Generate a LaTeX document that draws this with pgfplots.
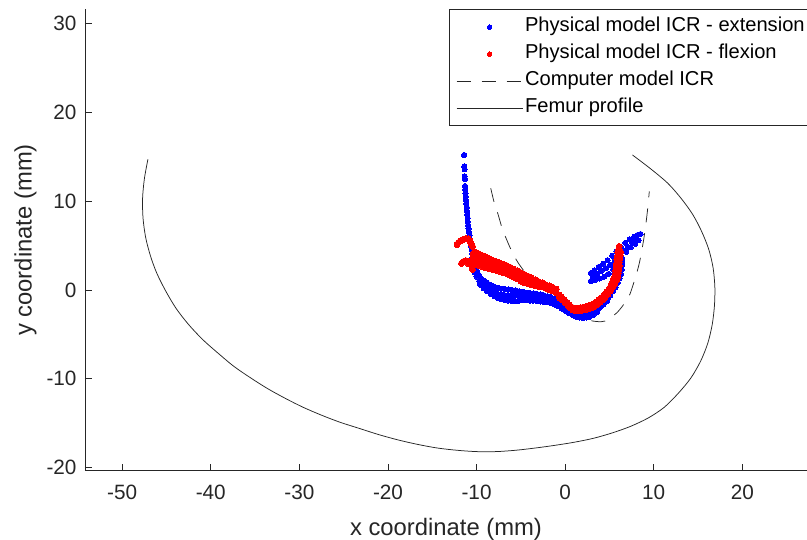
\documentclass[border=0pt]{standalone}
\usepackage{fontspec}
\setmainfont{Liberation Sans}
\usepackage{pgfplots}
\pgfplotsset{compat=1.18}
\definecolor{axgray}{RGB}{38,38,38}
\pgfplotsset{
  dotleg/.style={legend image code/.code={\draw[##1, mark size=2.2bp] plot coordinates {(33bp,0bp)};}},
  lineleg/.style={legend image code/.code={\draw[##1] (0bp,0bp) -- (66bp,0bp);}},
  bdot/.style={only marks, mark=*, mark size=2.6bp, color=blue, mark options={fill=blue, draw=blue, line width=0bp}},
  rdot/.style={only marks, mark=*, mark size=3bp, color=red, mark options={fill=red, draw=red, line width=0bp}},
}
\begin{document}
\begin{tikzpicture}
\begin{axis}[
  name=ax,
  scale only axis,
  width=722bp, height=461.4bp,
  xmin=-54.2, xmax=27.3,
  ymin=-20.35, ymax=31.6,
  axis x line=bottom, axis y line=left,
  axis line style={-, axgray, line width=0.8bp},
  tick align=inside,
  major tick length=7bp,
  tick style={axgray, line width=0.8bp},
  xtick={-50,-40,-30,-20,-10,0,10,20},
  ytick={-20,-10,0,10,20,30},
  /pgf/number format/assume math mode=true,
  ticklabel style={font=\fontsize{20.8}{24}\selectfont, text=axgray},
  xticklabel style={yshift=-11bp},
  yticklabel style={xshift=-5bp},
  xlabel={x coordinate (mm)},
  ylabel={y coordinate (mm)},
  label style={font=\fontsize{23.9}{27}\selectfont, text=axgray},
  xlabel style={at={([yshift=-64.3bp]axis description cs:0.5,0)}, anchor=base},
  ylabel style={at={([xshift=-53.3bp]axis description cs:0,0.5)}, anchor=base},
  legend style={at={(0.5042,1)}, anchor=north west, draw=axgray, line width=0.6bp, fill=white,
    font=\fontsize{20.2}{23}\selectfont, text=black, inner xsep=7bp, inner ysep=4bp,
    nodes={text height=13.5bp, text depth=4bp, inner ysep=4.75bp}},
  legend cell align=left,
  clip=true,
]
% ---- Physical model ICR - extension (blue)
\addplot[bdot, dotleg]
coordinates {
(-11.4,15.2) (-11.4,13.9) (-11.35,13.6) (-11.35,12.8) (-11.3,12.5) (-11.3,11.7) (-11.28,11.3) (-11.25,10.9)
(-11.2,10.5) (-11.2,10.1) (-11.15,9.7) (-11.1,9.3) (-11.1,8.9) (-11.05,8.5) (-11.0,8.1) (-11.0,7.7)
(-10.95,7.3) (-10.9,6.9) (-10.85,6.5) (-10.8,6.1) (-10.75,5.7) (-10.7,5.3) (-10.6,4.9) (-10.55,4.5)
(-10.5,4.1) (-10.45,3.7) (-10.35,3.3) (-10.25,2.9) (-10.1,2.5) (-9.95,2.1) (-9.75,1.7) (-9.5,1.3)
(-9.2,1.05) (-8.9,0.85) (-8.6,0.65) (-8.3,0.5) (-8.0,0.35) (-7.6,0.25) (-7.2,0.15) (-6.8,0.1)
(-6.4,0.05) (-6.0,0.0) (-5.6,-0.05) (-5.2,-0.15) (-4.8,-0.2) (-4.4,-0.3) (-4.0,-0.35) (-3.6,-0.4)
(-3.2,-0.45) (-2.8,-0.5) (-2.4,-0.6) (-2.0,-0.7) (-1.6,-0.8) (-1.2,-0.95) (-0.8,-1.1) (-0.4,-1.4)
(0.0,-1.7) (0.4,-1.95) (0.8,-2.2) (1.2,-2.4) (1.6,-2.55) (2.0,-2.6) (2.4,-2.6) (2.8,-2.5)
(3.2,-2.3) (3.6,-2.05) (4.0,-1.75) (4.4,-1.4) (4.8,-1.0) (5.1,-0.6) (5.4,-0.15) (5.7,0.3)
(5.95,0.8) (6.15,1.3) (6.3,1.8) (6.4,2.3) (6.45,2.8) (6.45,3.3)
};
\addlegendentry{Physical model ICR - extension}
\addplot[forget plot, bdot]
coordinates {
(-10.2,2.0) (-10.0,1.5) (-9.7,1.0)
(-9.3,0.7) (-8.9,0.35) (-8.5,0.1) (-8.1,-0.15) (-7.7,-0.35) (-7.3,-0.5) (-6.9,-0.55) (-6.5,-0.6)
(-6.1,-0.65) (-5.7,-0.65) (-5.3,-0.65) (-4.9,-0.65) (-4.5,-0.7) (-4.1,-0.75) (-3.7,-0.8) (-3.3,-0.85)
(-2.9,-0.9) (-2.5,-0.95) (-2.1,-1.05) (-1.7,-1.15) (-1.3,-1.3) (-0.9,-1.5) (-0.5,-1.75) (-0.1,-2.0)
(0.3,-2.25) (0.7,-2.5) (1.1,-2.7) (1.5,-2.85) (1.9,-2.9) (2.3,-2.9) (2.7,-2.8) (3.1,-2.6)
(3.5,-2.3) (3.9,-2.0) (4.3,-1.65) (4.7,-1.25)
(-9.6,0.6) (-9.2,0.2) (-8.8,-0.15) (-8.4,-0.45) (-8.0,-0.7) (-7.6,-0.9) (-7.2,-1.05) (-6.8,-1.15)
(-6.4,-1.2) (-6.0,-1.25) (-5.6,-1.25) (-5.2,-1.2) (-4.8,-1.15) (-4.4,-1.15) (-4.0,-1.2) (-3.6,-1.2)
(-3.2,-1.25) (-2.8,-1.3) (-2.4,-1.35) (-2.0,-1.4) (-1.6,-1.5) (-1.2,-1.65) (-0.8,-1.85) (-0.4,-2.1)
(0.0,-2.35) (0.4,-2.6) (0.8,-2.8) (1.2,-3.0) (1.6,-3.1) (2.0,-3.15) (2.4,-3.1) (2.8,-3.0)
(3.2,-2.8) (3.6,-2.5)
(2.9,1.9) (3.3,2.2) (3.8,2.6) (4.3,2.95) (4.8,3.35) (5.3,3.85) (5.8,4.3) (6.3,4.8)
(6.8,5.3) (7.3,5.7) (7.8,6.0) (8.2,6.2) (8.5,6.3)
(2.9,1.0) (3.4,1.15) (3.9,1.3) (4.4,1.5) (4.9,1.8) (5.4,2.3) (5.9,2.9) (6.4,3.6)
(6.9,4.3) (7.4,4.8) (7.9,5.2) (8.3,5.6)
(3.1,1.45) (3.6,1.8) (4.1,2.15) (4.6,2.45) (5.1,2.85) (5.6,3.35) (6.1,3.85) (6.6,4.4)
(7.1,4.85) (7.6,5.3) (8.1,5.7)
};
% ---- Physical model ICR - flexion (red)
\addplot[rdot, dotleg]
coordinates {
(-12.2,5.1) (-12.05,5.35) (-11.8,5.55) (-11.5,5.7) (-11.2,5.8) (-10.95,5.75) (-10.75,5.5) (-10.6,5.2)
(-10.45,4.9)
(-11.7,3.0) (-11.5,3.2) (-11.2,3.3) (-10.9,3.2) (-10.6,2.9) (-10.5,2.6) (-10.45,2.3)
(-0.7,-0.55) (-0.4,-0.8) (-0.1,-1.1) (0.2,-1.4) (0.5,-1.7) (0.8,-1.95) (1.1,-2.05) (1.4,-2.05)
(1.7,-2.0) (2.0,-1.95) (2.3,-1.9) (2.6,-1.8) (2.9,-1.7) (3.2,-1.55) (3.5,-1.35) (3.8,-1.1)
(4.1,-0.85) (4.4,-0.55) (4.7,-0.2) (5.0,0.2) (5.2,0.6) (5.4,1.0) (5.55,1.4) (5.65,1.8)
(5.7,2.2) (5.75,2.6) (5.8,3.0) (5.85,3.4) (5.9,3.8) (5.95,4.2) (6.05,4.6) (6.1,4.9)
};
\addlegendentry{Physical model ICR - flexion}
\addplot[forget plot, rdot]
coordinates {
(-10.2,4.3) (-9.8,4.1) (-9.4,3.9) (-9.0,3.75) (-8.6,3.55) (-8.2,3.35) (-7.8,3.2) (-7.4,3.05)
(-7.0,2.9) (-6.6,2.75) (-6.2,2.55) (-5.8,2.35) (-5.4,2.15) (-5.0,1.95) (-4.6,1.75) (-4.2,1.55)
(-3.8,1.35) (-3.4,1.15) (-3.0,0.95) (-2.6,0.8) (-2.2,0.6) (-1.8,0.45) (-1.4,0.3) (-1.0,0.1)
(-11.0,3.0) (-10.6,2.95) (-10.2,2.85) (-9.8,2.75) (-9.4,2.65) (-9.0,2.5) (-8.6,2.4) (-8.2,2.3)
(-7.8,2.2) (-7.4,2.1) (-7.0,1.95) (-6.6,1.85) (-6.2,1.65) (-5.8,1.45) (-5.4,1.25) (-5.0,1.0)
(-4.6,0.8) (-4.2,0.7) (-3.8,0.6) (-3.4,0.5) (-3.0,0.4) (-2.6,0.35) (-2.2,0.2) (-1.8,0.05)
(-1.4,-0.1) (-1.0,-0.3)
(-10.4,3.5) (-10.0,3.45) (-9.6,3.3) (-9.2,3.15) (-8.8,3.0) (-8.4,2.85) (-8.0,2.7) (-7.6,2.6)
(-7.2,2.45) (-6.8,2.3) (-6.4,2.15) (-6.0,1.95) (-5.6,1.75) (-5.2,1.55) (-4.8,1.35) (-4.4,1.15)
(-4.0,1.0) (-3.6,0.85) (-3.2,0.7) (-2.8,0.55) (-2.4,0.45)
(-10.4,4.0) (-10.0,3.8) (-9.6,3.6) (-10.6,3.3)
(-0.6,-0.9) (-0.3,-1.15) (0.0,-1.45) (0.3,-1.75) (0.6,-2.05) (0.9,-2.25) (1.2,-2.35) (1.5,-2.35)
(1.8,-2.3) (2.1,-2.25) (2.4,-2.2) (2.7,-2.1) (3.0,-2.0) (3.3,-1.85) (3.6,-1.65) (3.9,-1.4)
(4.2,-1.15) (4.5,-0.85) (4.8,-0.5) (5.1,-0.1) (5.35,0.3) (5.6,0.7) (5.8,1.1) (5.95,1.5)
(6.0,1.9) (6.05,2.3) (6.1,2.7) (6.1,3.1) (6.15,3.5) (6.2,3.9) (6.25,4.3)
};
% ---- Computer model ICR (dashed)
\addplot[color=black!85, line width=0.75bp, dash pattern=on 14bp off 11bp, smooth, tension=0.5, lineleg]
coordinates {
(-8.4,11.45) (-8.0,9.8) (-7.6,8.6) (-7.1,6.9) (-6.66,5.8) (-6.0,4.3) (-5.27,3.0) (-4.3,1.7)
(-3.4,0.75) (-2.1,-0.4) (-0.6,-1.8) (0.9,-2.7) (2.3,-3.3) (3.5,-3.55) (4.5,-3.5) (5.8,-2.6)
(6.7,-1.5) (7.34,-0.4) (8.27,2.6) (8.75,5.0) (9.03,6.8) (9.3,9.0) (9.5,11.1)
};
\addlegendentry{Computer model ICR}
% ---- Femur profile (solid)
\addplot[color=black!85, line width=0.75bp, smooth, tension=0.5, lineleg]
coordinates {
(-47.1,14.7) (-47.5,12.5) (-47.7,10.3) (-47.65,8.1) (-47.35,5.9) (-46.8,3.8) (-46.1,1.9) (-45.1,-0.1)
(-43.9,-2.1) (-42.5,-3.9) (-40.9,-5.6) (-39.2,-7.1) (-37.4,-8.6) (-35.5,-9.9) (-33.6,-11.1) (-31.6,-12.2)
(-29.6,-13.2) (-27.5,-14.1) (-25.4,-14.9) (-23.2,-15.6) (-21.0,-16.3) (-18.8,-16.9) (-16.6,-17.4) (-14.4,-17.8)
(-12.2,-18.05) (-10.0,-18.2) (-7.8,-18.2) (-5.6,-18.05) (-3.4,-17.8) (-1.2,-17.5) (1.0,-17.15) (3.2,-16.7)
(5.3,-16.1) (7.4,-15.35) (9.4,-14.4) (11.2,-13.2) (12.8,-11.6) (14.2,-9.9) (15.3,-8.0) (16.1,-6.0)
(16.6,-3.9) (16.85,-1.8) (16.9,0.3) (16.7,2.5) (16.2,4.6) (15.4,6.6) (14.4,8.5) (13.1,10.3)
(11.6,12.0) (9.7,13.6) (7.6,15.2)
};
\addlegendentry{Femur profile}
\end{axis}
\pgfresetboundingbox
\path ([xshift=-85bp,yshift=-69.3bp]ax.south west) rectangle ([yshift=9.3bp]ax.north east);
\end{tikzpicture}
\end{document}
